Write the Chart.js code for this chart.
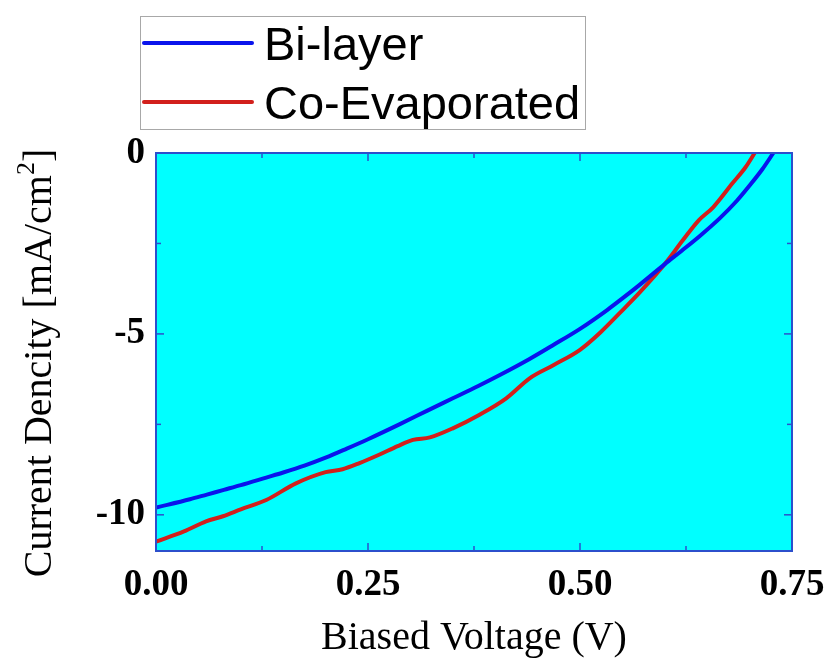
<!DOCTYPE html>
<html>
<head>
<meta charset="utf-8">
<title>J-V curves</title>
<script src="https://cdn.jsdelivr.net/npm/chart.js@4.4.1/dist/chart.umd.min.js"></script>
<style>
    html, body { margin: 0; padding: 0; background: #ffffff; }
    #jv { display: block; }
</style>
</head>
<body>
<canvas id="jv" width="829" height="662"></canvas>
<script>
// Data
const seriesNames = ["Bi-layer", "Co-Evaporated"];
const seriesColors = ["#0a14ec", "#d2201c"];

const bilayerVoltage = [0.000, 0.040, 0.060, 0.080, 0.100, 0.130, 0.150, 0.175, 0.200, 0.225, 0.250, 0.287, 0.320, 0.350, 0.380, 0.406, 0.440, 0.469, 0.500, 0.532, 0.550, 0.571, 0.600, 0.620, 0.641, 0.665, 0.685, 0.700, 0.715, 0.728];
const bilayerCurrent = [-9.80, -9.57, -9.44, -9.31, -9.18, -8.97, -8.83, -8.64, -8.42, -8.17, -7.91, -7.50, -7.12, -6.78, -6.44, -6.13, -5.70, -5.30, -4.86, -4.34, -4.02, -3.63, -3.07, -2.70, -2.30, -1.80, -1.32, -0.90, -0.45, 0.00];

const coevapVoltage = [0.000, 0.033, 0.059, 0.079, 0.100, 0.130, 0.165, 0.200, 0.220, 0.240, 0.263, 0.285, 0.303, 0.323, 0.350, 0.381, 0.413, 0.441, 0.469, 0.500, 0.524, 0.547, 0.571, 0.600, 0.621, 0.640, 0.657, 0.680, 0.695, 0.706];
const coevapCurrent = [-10.74, -10.46, -10.18, -10.04, -9.85, -9.59, -9.13, -8.82, -8.74, -8.57, -8.34, -8.10, -7.93, -7.86, -7.61, -7.24, -6.78, -6.22, -5.86, -5.44, -4.96, -4.42, -3.84, -3.07, -2.42, -1.86, -1.50, -0.83, -0.40, 0.00];

const xTickValues = [0, 0.25, 0.5, 0.75];
const xMinorValues = [0.125, 0.375, 0.625];
const yTickValues = [0, -5, -10];
const yMinorValues = [-2.5, -7.5];

// Style
const frameColor = "#2c4fcc";
const plotFill = "#00ffff";
const serif = "'Liberation Serif', 'Times New Roman', serif";
const sans = "'Liberation Sans', Arial, sans-serif";

const toPoints = (xs, ys) => xs.map((x, i) => ({x: x, y: ys[i]}));

// Plugin: cyan plot area, frame with inward ticks, legend box, y title
const plotDecor = {
    id: "plotDecor",
    beforeDatasetsDraw(chart) {
        const {ctx, chartArea: a} = chart;
        ctx.save();
        ctx.fillStyle = plotFill;
        ctx.fillRect(a.left, a.top, a.right - a.left, a.bottom - a.top);
        ctx.restore();
    },
    afterDatasetsDraw(chart) {
        const {ctx, chartArea: a, scales} = chart;
        ctx.save();
        ctx.strokeStyle = frameColor;
        ctx.lineWidth = 2;
        ctx.strokeRect(a.left, a.top, a.right - a.left, a.bottom - a.top);

        const tick = (x1, y1, x2, y2) => {
            ctx.beginPath();
            ctx.moveTo(x1, y1);
            ctx.lineTo(x2, y2);
            ctx.stroke();
        };
        ctx.lineWidth = 1.5;
        xTickValues.concat(xMinorValues).forEach(v => {
            const len = xTickValues.includes(v) ? 8 : 5;
            const px = scales.x.getPixelForValue(v);
            tick(px, a.bottom, px, a.bottom - len);
            tick(px, a.top, px, a.top + len);
        });
        yTickValues.concat(yMinorValues).forEach(v => {
            const len = yTickValues.includes(v) ? 8 : 5;
            const py = scales.y.getPixelForValue(v);
            tick(a.left, py, a.left + len, py);
            tick(a.right, py, a.right - len, py);
        });
        ctx.restore();
    },
    afterDraw(chart) {
        const {ctx} = chart;
        ctx.save();

        // legend
        ctx.fillStyle = "#ffffff";
        ctx.fillRect(140, 16, 445, 113);
        ctx.strokeStyle = "#a8a8a8";
        ctx.lineWidth = 1;
        ctx.strokeRect(140.5, 16.5, 445, 113);
        ctx.font = "47px " + sans;
        ctx.textBaseline = "alphabetic";
        ctx.textAlign = "left";
        chart.data.datasets.forEach((ds, i) => {
            const y = 43 + i * 59;
            ctx.strokeStyle = ds.borderColor;
            ctx.lineWidth = 4;
            ctx.lineCap = "round";
            ctx.beginPath();
            ctx.moveTo(144, y);
            ctx.lineTo(252, y);
            ctx.stroke();
            ctx.fillStyle = "#000000";
            ctx.fillText(ds.label, 264, y + 17);
        });

        // y axis title with superscript
        const main = "Current Dencity [mA/cm";
        const sup = "2";
        const close = "]";
        ctx.font = "40px " + serif;
        const wMain = ctx.measureText(main).width;
        const wClose = ctx.measureText(close).width;
        ctx.font = "26px " + serif;
        const wSup = ctx.measureText(sup).width;
        const total = wMain + wSup + wClose;
        ctx.translate(51, 363);
        ctx.rotate(-Math.PI / 2);
        ctx.fillStyle = "#000000";
        let x = -total / 2;
        ctx.font = "40px " + serif;
        ctx.fillText(main, x, 0);
        x += wMain;
        ctx.font = "26px " + serif;
        ctx.fillText(sup, x, -17);
        x += wSup;
        ctx.font = "40px " + serif;
        ctx.fillText(close, x, 0);
        ctx.restore();
    }
};

new Chart(document.querySelector("#jv"), {
    type: "scatter",
    data: {
        datasets: [
            {
                label: seriesNames[0],
                data: toPoints(bilayerVoltage, bilayerCurrent),
                showLine: true,
                borderColor: seriesColors[0],
                backgroundColor: seriesColors[0],
                borderWidth: 4,
                pointRadius: 0,
                cubicInterpolationMode: "monotone"
            },
            {
                label: seriesNames[1],
                data: toPoints(coevapVoltage, coevapCurrent),
                showLine: true,
                borderColor: seriesColors[1],
                backgroundColor: seriesColors[1],
                borderWidth: 4,
                pointRadius: 0,
                cubicInterpolationMode: "monotone"
            }
        ]
    },
    options: {
        responsive: false,
        animation: false,
        layout: {
            padding: {top: 153, right: 37, left: 0, bottom: 0}
        },
        plugins: {
            legend: {display: false},
            tooltip: {enabled: false}
        },
        scales: {
            x: {
                type: "linear",
                min: 0,
                max: 0.75,
                afterBuildTicks: s => { s.ticks = xTickValues.map(v => ({value: v})); },
                afterFit: s => {
                    s.height = 111;
                    s.paddingLeft = 0;
                    s.paddingRight = 0;
                },
                grid: {display: false, drawTicks: false},
                border: {display: false},
                ticks: {
                    color: "#000000",
                    font: {family: serif, size: 37, weight: "bold"},
                    padding: 12,
                    maxRotation: 0,
                    autoSkip: false,
                    callback: v => v.toFixed(2)
                },
                title: {
                    display: true,
                    text: "Biased Voltage (V)",
                    color: "#000000",
                    font: {family: serif, size: 40},
                    padding: {top: 0, bottom: 0}
                }
            },
            y: {
                type: "linear",
                min: -11,
                max: 0,
                afterBuildTicks: s => { s.ticks = yTickValues.map(v => ({value: v})); },
                afterFit: s => {
                    s.width = 156;
                    s.paddingTop = 0;
                    s.paddingBottom = 0;
                },
                grid: {display: false, drawTicks: false},
                border: {display: false},
                ticks: {
                    color: "#000000",
                    font: {family: serif, size: 37, weight: "bold"},
                    padding: 11,
                    autoSkip: false,
                    callback: v => String(v)
                }
            }
        }
    },
    plugins: [plotDecor]
});
</script>
</body>
</html>
